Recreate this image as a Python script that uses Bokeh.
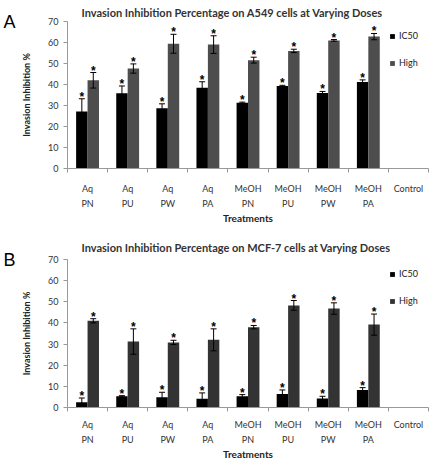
import numpy as np
from bokeh.plotting import figure
from bokeh.models import (Range1d, FixedTicker, ColumnDataSource, Whisker, TeeHead, LinearAxis, Title)
from bokeh.layouts import column
from bokeh.embed import file_html
from bokeh.resources import INLINE
from bokeh.core.properties import value

categories = ["Aq\nPN", "Aq\nPU", "Aq\nPW", "Aq\nPA", "MeOH\nPN", "MeOH\nPU", "MeOH\nPW", "MeOH\nPA", "Control"]
series_labels = ["IC50", "High"]
y_ticks = [0, 10, 20, 30, 40, 50, 60, 70]

a549_title = "Invasion Inhibition Percentage on A549 cells at Varying Doses"
a549_ic50 = [27.2, 35.8, 28.7, 38.5, 31.3, 39.3, 36.0, 41.2]
a549_ic50_err = [6.0, 3.5, 2.1, 2.8, 0.3, 0.3, 0.7, 1.0]
a549_high = [42.0, 47.6, 59.4, 59.0, 51.6, 56.0, 61.0, 62.8]
a549_high_err = [3.7, 2.2, 4.5, 4.2, 1.4, 0.8, 0.4, 1.5]

mcf7_title = "Invasion Inhibition Percentage on MCF-7 cells at Varying Doses"
mcf7_ic50 = [2.5, 5.3, 4.8, 4.1, 5.3, 6.4, 4.2, 8.3]
mcf7_ic50_err = [2.0, 0.3, 2.4, 2.8, 0.8, 1.9, 1.1, 1.1]
mcf7_high = [41.0, 31.2, 30.8, 32.0, 38.0, 48.3, 46.8, 39.2]
mcf7_high_err = [1.0, 6.0, 1.0, 5.2, 0.8, 2.3, 2.7, 5.0]

FONT = "Lato"
W = 432
ML, MR = 63, 4


def make_panel(letter, title, ic50, ic50_err, high, high_err, high_color, height, top, bottom,
               title_standoff, tick_standoff, line_height):
    n = len(categories)
    p = figure(width=W, height=height, output_backend="svg", toolbar_location=None,
               x_range=Range1d(0, n), y_range=Range1d(0, 70),
               min_border_left=ML, min_border_right=MR,
               min_border_top=top, min_border_bottom=bottom)
    p.outline_line_color = None
    p.xgrid.visible = False
    p.ygrid.visible = False
    p.background_fill_color = "white"

    p.title = Title(text=title, align="left", offset=14, standoff=title_standoff, text_font=FONT,
                    text_font_style="bold", text_font_size="11px", text_color="#333333")

    centers = np.arange(n) + 0.5
    k = len(ic50)
    bw = 0.285
    x1 = centers[:k] - bw / 2
    x2 = centers[:k] + bw / 2
    lo1 = [v - e for v, e in zip(ic50, ic50_err)]
    up1 = [v + e for v, e in zip(ic50, ic50_err)]
    lo2 = [v - e for v, e in zip(high, high_err)]
    up2 = [v + e for v, e in zip(high, high_err)]
    s1 = ColumnDataSource(dict(x=x1, top=ic50, lower=lo1, upper=up1, star=["*"] * k))
    s2 = ColumnDataSource(dict(x=x2, top=high, lower=lo2, upper=up2, star=["*"] * k))

    p.vbar(x="x", top="top", width=bw, source=s1, fill_color="black", line_color=None,
           legend_label=series_labels[0])
    p.vbar(x="x", top="top", width=bw, source=s2, fill_color=high_color, line_color=None,
           legend_label=series_labels[1])

    for s in (s1, s2):
        w = Whisker(base="x", lower="lower", upper="upper", source=s, line_color="black",
                    line_width=1, level="annotation",
                    upper_head=TeeHead(size=6, line_color="black", line_width=1),
                    lower_head=TeeHead(size=6, line_color="black", line_width=1))
        p.add_layout(w)
        p.text(x="x", y="upper", text="star", source=s, text_align="center",
               text_baseline="alphabetic", y_offset=-2, text_font=value("Liberation Sans"),
               text_font_style="bold", text_font_size="12px", text_color="black")

    # y axis
    yax = p.yaxis[0]
    yax.ticker = FixedTicker(ticks=y_ticks)
    yax.axis_line_color = "#999999"
    yax.major_tick_line_color = "#999999"
    yax.major_tick_out = 4
    yax.major_tick_in = 0
    yax.minor_tick_line_color = None
    yax.major_label_text_font = FONT
    yax.major_label_text_font_size = "9px"
    yax.major_label_text_color = "#333333"
    yax.major_label_standoff = 5
    yax.axis_label = "Invasion Inhibition %"
    yax.axis_label_text_font = FONT
    yax.axis_label_text_font_size = "9px"
    yax.axis_label_text_font_style = "bold"
    yax.axis_label_text_color = "#222222"
    yax.axis_label_standoff = 13

    # panel letter as an outer left axis with a single labelled tick
    lax = LinearAxis(ticker=FixedTicker(ticks=[70]), major_label_overrides={70: letter})
    lax.axis_line_color = None
    lax.major_tick_line_color = None
    lax.minor_tick_line_color = None
    lax.major_tick_out = 0
    lax.major_tick_in = 0
    lax.major_label_standoff = 3
    lax.major_label_text_font = "Liberation Sans"
    lax.major_label_text_font_size = "18px"
    lax.major_label_text_color = "black"
    p.add_layout(lax, "left")

    # x axis
    xax = p.xaxis[0]
    xax.ticker = FixedTicker(ticks=list(centers), minor_ticks=list(np.arange(n + 1)))
    xax.major_label_overrides = {float(c): lab for c, lab in zip(centers, categories)}
    xax.axis_line_color = "#999999"
    xax.major_tick_line_color = None
    xax.major_tick_out = 0
    xax.major_tick_in = 0
    xax.minor_tick_line_color = "#999999"
    xax.minor_tick_out = 4
    xax.minor_tick_in = 0
    xax.major_label_text_font = FONT
    xax.major_label_text_font_size = "9px"
    xax.major_label_text_color = "#333333"
    xax.major_label_text_line_height = line_height
    xax.major_label_standoff = tick_standoff
    xax.axis_label = "Treatments"
    xax.axis_label_text_font = FONT
    xax.axis_label_text_font_size = "10px"
    xax.axis_label_text_font_style = "bold"
    xax.axis_label_text_color = "#222222"
    xax.axis_label_standoff = 0

    # legend
    lg = p.legend[0]
    lg.location = "top_right"
    lg.border_line_color = None
    lg.background_fill_alpha = 0
    lg.label_text_font = FONT
    lg.label_text_font_size = "9px"
    lg.label_text_color = "#222222"
    lg.glyph_width = 6
    lg.glyph_height = 6
    lg.label_height = 10
    lg.label_standoff = 4
    lg.spacing = 16
    lg.padding = 0
    lg.margin = 9
    return p


pa = make_panel("A", a549_title, a549_ic50, a549_ic50_err, a549_high, a549_high_err,
                "#4d4d4d", 230, 20, 62, 6, 10, 1.45)
pb = make_panel("B", mcf7_title, mcf7_ic50, mcf7_ic50_err, mcf7_high, mcf7_high_err,
                "#333333", 232, 29, 55, 11, 7, 1.4)

layout = column(pa, pb, spacing=0)
open("out.html", "w").write(file_html(layout, INLINE))
